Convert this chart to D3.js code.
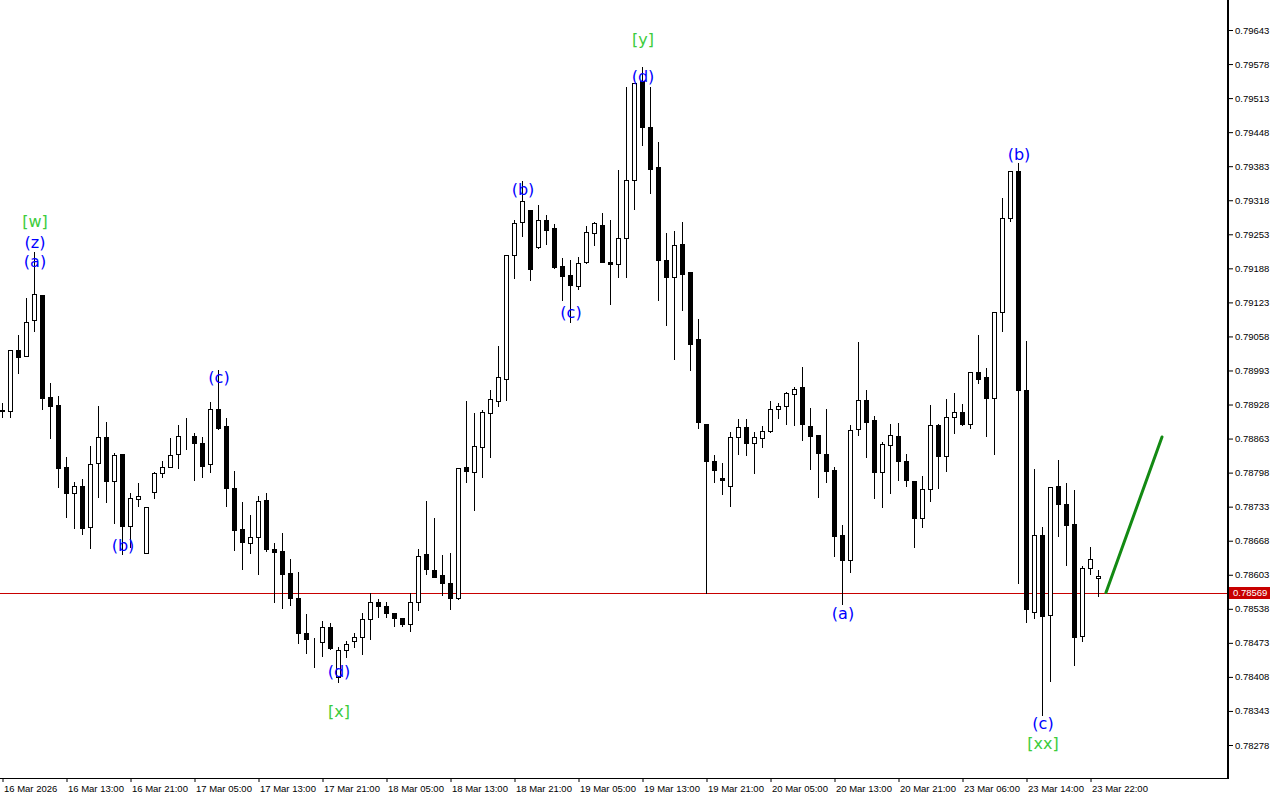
<!DOCTYPE html>
<html>
<head>
<meta charset="utf-8">
<script src="https://cdn.jsdelivr.net/npm/d3@7"></script>
<style>
  body { margin: 0; background: #fff; }
  svg { display: block; }
</style>
</head>
<body>
<div id="main"></div>
<script>
///////////
// DATA  //
///////////

// H1 bars, one value per bar
const opens = [
  0.78918, 0.78916, 0.79032, 0.79021, 0.79089, 0.79137, 0.78942, 0.78927, 0.78809, 0.78759,
  0.78773, 0.78694, 0.78816, 0.78866, 0.78782, 0.78834, 0.78696, 0.78748, 0.78645, 0.78761,
  0.78797, 0.78809, 0.78834, 0.78868, 0.78868, 0.78855, 0.78815, 0.78920, 0.78887, 0.78769,
  0.78690, 0.78664, 0.78675, 0.78746, 0.78652, 0.78649, 0.78606, 0.78559, 0.78492, 0.78480,
  0.78475, 0.78503, 0.78408, 0.78459, 0.78477, 0.78484, 0.78519, 0.78551, 0.78543, 0.78530,
  0.78521, 0.78509, 0.78551, 0.78643, 0.78612, 0.78603, 0.78587, 0.78559, 0.78809, 0.78799,
  0.78847, 0.78912, 0.78935, 0.78977, 0.79214, 0.79277, 0.79299, 0.79229, 0.79280, 0.79265,
  0.79193, 0.79175, 0.79154, 0.79200, 0.79256, 0.79271, 0.79200, 0.79196, 0.79245, 0.79357,
  0.79546, 0.79458, 0.79382, 0.79204, 0.79172, 0.79235, 0.79181, 0.79053, 0.78891, 0.78820,
  0.78788, 0.78773, 0.78866, 0.78885, 0.78855, 0.78864, 0.78878, 0.78920, 0.78925, 0.78948,
  0.78962, 0.78887, 0.78870, 0.78834, 0.78803, 0.78679, 0.78631, 0.78881, 0.78937, 0.78899,
  0.78799, 0.78851, 0.78868, 0.78820, 0.78782, 0.78711, 0.78767, 0.78889, 0.78830, 0.78904,
  0.78914, 0.78891, 0.78990, 0.78981, 0.78941, 0.79105, 0.79284, 0.79374, 0.78956, 0.78532,
  0.78679, 0.78526, 0.78772, 0.78738, 0.78700, 0.78486, 0.78615, 0.78597
]
const highs = [
  0.78930, 0.79032, 0.79061, 0.79131, 0.79219, 0.79137, 0.78969, 0.78944, 0.78828, 0.78780,
  0.78786, 0.78849, 0.78925, 0.78895, 0.78836, 0.78834, 0.78759, 0.78778, 0.78732, 0.78799,
  0.78820, 0.78864, 0.78889, 0.78902, 0.78874, 0.78866, 0.78933, 0.78994, 0.78902, 0.78801,
  0.78742, 0.78717, 0.78753, 0.78759, 0.78664, 0.78683, 0.78633, 0.78608, 0.78528, 0.78482,
  0.78515, 0.78511, 0.78465, 0.78477, 0.78492, 0.78530, 0.78568, 0.78557, 0.78551, 0.78530,
  0.78521, 0.78568, 0.78652, 0.78744, 0.78711, 0.78641, 0.78645, 0.78807, 0.78935, 0.78912,
  0.78918, 0.78956, 0.79040, 0.79214, 0.79280, 0.79355, 0.79299, 0.79309, 0.79290, 0.79273,
  0.79208, 0.79204, 0.79210, 0.79269, 0.79277, 0.79294, 0.79280, 0.79376, 0.79534, 0.79542,
  0.79572, 0.79534, 0.79429, 0.79256, 0.79259, 0.79276, 0.79181, 0.79092, 0.78891, 0.78832,
  0.78816, 0.78876, 0.78900, 0.78900, 0.78876, 0.78887, 0.78935, 0.78931, 0.78952, 0.78962,
  0.79000, 0.78921, 0.78870, 0.78920, 0.78809, 0.78698, 0.78889, 0.79047, 0.78956, 0.78906,
  0.78857, 0.78891, 0.78893, 0.78834, 0.78782, 0.78792, 0.78927, 0.78891, 0.78939, 0.78950,
  0.78929, 0.78990, 0.79061, 0.78998, 0.79105, 0.79322, 0.79374, 0.79389, 0.79049, 0.78805,
  0.78694, 0.78771, 0.78822, 0.78778, 0.78765, 0.78620, 0.78656, 0.78612
]
const lows = [
  0.78905, 0.78904, 0.78988, 0.79021, 0.79068, 0.78920, 0.78864, 0.78771, 0.78713, 0.78692,
  0.78681, 0.78654, 0.78752, 0.78742, 0.78702, 0.78643, 0.78656, 0.78734, 0.78645, 0.78750,
  0.78790, 0.78809, 0.78807, 0.78843, 0.78784, 0.78790, 0.78799, 0.78881, 0.78734, 0.78650,
  0.78614, 0.78645, 0.78605, 0.78649, 0.78551, 0.78540, 0.78545, 0.78473, 0.78454, 0.78427,
  0.78448, 0.78461, 0.78398, 0.78446, 0.78465, 0.78452, 0.78480, 0.78522, 0.78522, 0.78505,
  0.78505, 0.78496, 0.78536, 0.78605, 0.78599, 0.78564, 0.78538, 0.78557, 0.78780, 0.78727,
  0.78790, 0.78828, 0.78925, 0.78937, 0.79170, 0.79250, 0.79166, 0.79227, 0.79235, 0.79189,
  0.79128, 0.79086, 0.79149, 0.79198, 0.79233, 0.79200, 0.79120, 0.79172, 0.79172, 0.79301,
  0.79424, 0.79332, 0.79128, 0.79080, 0.79015, 0.79109, 0.78994, 0.78883, 0.78568, 0.78780,
  0.78757, 0.78734, 0.78834, 0.78832, 0.78797, 0.78847, 0.78876, 0.78902, 0.78891, 0.78889,
  0.78860, 0.78805, 0.78752, 0.78780, 0.78639, 0.78547, 0.78608, 0.78870, 0.78828, 0.78750,
  0.78732, 0.78759, 0.78784, 0.78773, 0.78656, 0.78694, 0.78744, 0.78769, 0.78801, 0.78874,
  0.78889, 0.78883, 0.78969, 0.78868, 0.78834, 0.79068, 0.79278, 0.78587, 0.78513, 0.78521,
  0.78335, 0.78400, 0.78677, 0.78622, 0.78431, 0.78477, 0.78605, 0.78563
]
const closes = [
  0.78916, 0.79032, 0.79019, 0.79086, 0.79139, 0.78941, 0.78925, 0.78807, 0.78759, 0.78773,
  0.78692, 0.78815, 0.78866, 0.78782, 0.78832, 0.78696, 0.78750, 0.78753, 0.78732, 0.78797,
  0.78809, 0.78832, 0.78868, 0.78867, 0.78855, 0.78811, 0.78920, 0.78883, 0.78769, 0.78689,
  0.78666, 0.78675, 0.78744, 0.78652, 0.78647, 0.78605, 0.78559, 0.78492, 0.78480, 0.78480,
  0.78503, 0.78463, 0.78459, 0.78471, 0.78484, 0.78519, 0.78551, 0.78543, 0.78530, 0.78521,
  0.78509, 0.78551, 0.78639, 0.78614, 0.78599, 0.78587, 0.78559, 0.78807, 0.78801, 0.78849,
  0.78914, 0.78939, 0.78981, 0.79214, 0.79275, 0.79317, 0.79187, 0.79280, 0.79261, 0.79191,
  0.79173, 0.79156, 0.79198, 0.79257, 0.79275, 0.79200, 0.79196, 0.79245, 0.79357, 0.79542,
  0.79458, 0.79378, 0.79204, 0.79172, 0.79233, 0.79177, 0.79044, 0.78895, 0.78820, 0.78803,
  0.78784, 0.78866, 0.78885, 0.78855, 0.78866, 0.78878, 0.78920, 0.78925, 0.78950, 0.78958,
  0.78891, 0.78868, 0.78836, 0.78801, 0.78677, 0.78631, 0.78879, 0.78937, 0.78895, 0.78799,
  0.78853, 0.78870, 0.78820, 0.78784, 0.78711, 0.78767, 0.78889, 0.78830, 0.78904, 0.78914,
  0.78891, 0.78990, 0.78977, 0.78941, 0.79105, 0.79284, 0.79374, 0.78956, 0.78538, 0.78679,
  0.78524, 0.78771, 0.78738, 0.78698, 0.78484, 0.78616, 0.78634, 0.78601
]

const bid = 0.78569

// price scale labels
const priceTicks = [
  0.79643, 0.79578, 0.79513, 0.79448, 0.79383, 0.79318, 0.79253, 0.79188, 0.79123, 0.79058, 0.78993,
  0.78928, 0.78863, 0.78798, 0.78733, 0.78668, 0.78603, 0.78538, 0.78473, 0.78408, 0.78343, 0.78278
]

// time scale labels, every 8 bars
const timeTicks = [0, 8, 16, 24, 32, 40, 48, 56, 64, 72, 80, 88, 96, 104, 112, 120, 128, 136]
const timeLabels = [
  "16 Mar 2026", "16 Mar 13:00", "16 Mar 21:00", "17 Mar 05:00", "17 Mar 13:00", "17 Mar 21:00",
  "18 Mar 05:00", "18 Mar 13:00", "18 Mar 21:00", "19 Mar 05:00", "19 Mar 13:00", "19 Mar 21:00",
  "20 Mar 05:00", "20 Mar 13:00", "20 Mar 21:00", "23 Mar 06:00", "23 Mar 14:00", "23 Mar 22:00"
]

// wave marks: text, bar, price, degree
const waveLabels = [
  ["[w]", 4, 0.79277, "major"], ["(z)", 4, 0.79238, "minor"], ["(a)", 4, 0.79202, "minor"],
  ["(b)", 15, 0.78660, "minor"], ["(c)", 27, 0.78979, "minor"],
  ["(d)", 42, 0.78418, "minor"], ["[x]", 42, 0.78343, "major"],
  ["(b)", 65, 0.79338, "minor"], ["(c)", 71, 0.79103, "minor"],
  ["[y]", 80, 0.79626, "major"], ["(d)", 80, 0.79555, "minor"],
  ["(a)", 105, 0.78530, "minor"], ["(b)", 127, 0.79406, "minor"],
  ["(c)", 130, 0.78320, "minor"], ["[xx]", 130, 0.78282, "major"]
]

// forecast arrow: bar, price
const forecastBars = [138, 145]
const forecastPrices = [0.78569, 0.78866]

///////////
// SETUP //
///////////

let width = 1280
let height = 800
let plotRight = 1228
let plotBottom = 778

const black = '#000000'
const bidRed = '#c80000'
const waveBlue = '#0000ff'
const waveGreen = '#3ccc3c'

let x = d3.scaleLinear()
  .domain([0, 1])
  .range([2, 10])

let y = d3.scaleLinear()
  .domain([0.78278, 0.79643])
  .range([745, 30])

let bars = opens.map((o, i) => ({i: i, o: o, h: highs[i], l: lows[i], c: closes[i]}))

//////////
// DRAW //
//////////
let svg = d3.select("#main").append("svg")
  .attr("width", width)
  .attr("height", height)
  .style("background", "#fff")
  .style("font-family", "'Liberation Sans', Arial, sans-serif")

// bid line
svg.append("line")
  .attr("x1", 0).attr("x2", plotRight)
  .attr("y1", Math.round(y(bid)) + 0.5).attr("y2", Math.round(y(bid)) + 0.5)
  .attr("stroke", bidRed).attr("stroke-width", 1)
  .attr("shape-rendering", "crispEdges")

// candles
let candle = svg.append("g").attr("shape-rendering", "crispEdges")
  .selectAll("g.bar")
  .data(bars)
  .enter().append("g").attr("class", "bar")

candle.append("line")
  .attr("x1", d => x(d.i) + 0.5).attr("x2", d => x(d.i) + 0.5)
  .attr("y1", d => Math.round(y(d.h)))
  .attr("y2", d => Math.round(y(d.l)) + 1)
  .attr("stroke", black)

candle.append("rect")
  .attr("x", d => x(d.i) - 1.5)
  .attr("width", 4)
  .attr("y", d => Math.round(y(Math.max(d.o, d.c))) + 0.5)
  .attr("height", d => Math.round(y(Math.min(d.o, d.c))) - Math.round(y(Math.max(d.o, d.c))))
  .attr("fill", d => d.c >= d.o ? '#fff' : black)
  .attr("stroke", black)

// wave labels
svg.append("g")
  .selectAll("text")
  .data(waveLabels)
  .enter().append("text")
    .attr("x", d => x(d[1]) + 1)
    .attr("y", d => y(d[2]))
    .attr("dy", "0.35em")
    .attr("text-anchor", "middle")
    .style("font-family", "'DejaVu Sans', Verdana, sans-serif")
    .style("font-size", "16px")
    .attr("fill", d => d[3] == "major" ? waveGreen : waveBlue)
    .text(d => d[0])

// forecast line
svg.append("line")
  .attr("x1", x(forecastBars[0])).attr("y1", y(forecastPrices[0]))
  .attr("x2", x(forecastBars[1])).attr("y2", y(forecastPrices[1]))
  .attr("stroke", "#138a13").attr("stroke-width", 3)
  .attr("stroke-linecap", "round")

// price axis
let yAxis = d3.axisRight(y)
  .tickValues(priceTicks)
  .tickFormat(d3.format(".5f"))
  .tickSize(4)
  .tickPadding(2)

let gy = svg.append("g")
  .attr("transform", `translate(${plotRight + 1},0)`)
  .call(yAxis)
gy.select(".domain").remove()
gy.selectAll("text").style("font-size", "9.5px").attr("fill", black)
  .style("font-family", "'Liberation Sans', Arial, sans-serif")

svg.append("rect")
  .attr("x", plotRight - 1).attr("y", 0)
  .attr("width", 2).attr("height", plotBottom + 1)
  .attr("fill", black)

// bid price tag
svg.append("rect")
  .attr("x", plotRight + 1).attr("y", Math.round(y(bid)) - 6)
  .attr("width", 41).attr("height", 12)
  .attr("fill", bidRed)
svg.append("text")
  .attr("x", plotRight + 5).attr("y", y(bid))
  .attr("dy", "0.35em")
  .style("font-size", "9.5px")
  .attr("fill", "#fff")
  .text(d3.format(".5f")(bid))

// time axis
let xAxis = d3.axisBottom(x)
  .tickValues(timeTicks)
  .tickFormat((d, k) => timeLabels[k])
  .tickSize(4)
  .tickPadding(3)

let gx = svg.append("g")
  .attr("transform", `translate(0.5,${plotBottom})`)
  .call(xAxis)
gx.select(".domain").remove()
gx.selectAll("text")
  .attr("text-anchor", "start")
  .attr("dx", "0.1em")
  .style("font-size", "9.5px")
  .style("font-family", "'Liberation Sans', Arial, sans-serif")
  .attr("fill", black)

svg.append("line")
  .attr("x1", 0).attr("x2", plotRight + 1)
  .attr("y1", plotBottom + 0.5).attr("y2", plotBottom + 0.5)
  .attr("stroke", black)
  .attr("shape-rendering", "crispEdges")
</script>
</body>
</html>
